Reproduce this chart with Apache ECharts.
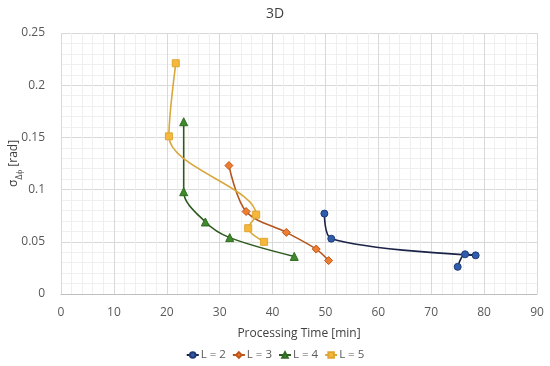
<!DOCTYPE html>
<html>
<head>
<meta charset="utf-8">
<script src="https://cdn.jsdelivr.net/npm/echarts@6/dist/echarts.min.js"></script>
<style>html,body{margin:0;padding:0;background:#fff}#c{width:550px;height:366px}</style>
</head>
<body>
<div id="c"></div>
<script>
const seriesNames = ['L = 2', 'L = 3', 'L = 4', 'L = 5'];
const timeL2 = [49.8, 51.1, 78.4, 76.4, 75.0];
const sigmaL2 = [0.077, 0.053, 0.037, 0.038, 0.026];
const timeL3 = [31.75, 35.0, 42.6, 48.25, 50.6];
const sigmaL3 = [0.123, 0.079, 0.059, 0.043, 0.032];
const timeL4 = [23.2, 23.2, 27.3, 31.9, 44.1];
const sigmaL4 = [0.165, 0.098, 0.069, 0.054, 0.036];
const timeL5 = [21.7, 20.4, 36.9, 35.4, 38.4];
const sigmaL5 = [0.221, 0.151, 0.076, 0.063, 0.050];
const xTicks = [0, 10, 20, 30, 40, 50, 60, 70, 80, 90];
const yTicks = [0, 0.05, 0.1, 0.15, 0.2, 0.25];

const pair = (xs, ys) => xs.map((x, i) => [x, ys[i]]);
const styles = [
  {line: '#1b2447', fill: '#2f5cab', border: '#1f3a78', symbol: 'circle', size: 7},
  {line: '#b5561f', fill: '#ed7d31', border: '#c0561a', symbol: 'diamond', size: 8},
  {line: '#2d5a1e', fill: '#3f8a2c', border: '#2f6b20', symbol: 'triangle', size: 8},
  {line: '#d8a83c', fill: '#f5b83d', border: '#e0a52e', symbol: 'rect', size: 7}
];
const datas = [pair(timeL2, sigmaL2), pair(timeL3, sigmaL3), pair(timeL4, sigmaL4), pair(timeL5, sigmaL5)];

const chart = echarts.init(document.getElementById('c'), null, {renderer: 'canvas'});
chart.setOption({
  animation: false,
  title: {text: '3D', left: 'center', top: 2, textStyle: {fontFamily: 'Open Sans', fontSize: 14, fontWeight: 'normal', color: '#404040'}},
  grid: {left: 61, right: 13, top: 33, bottom: 72, containLabel: false, outerBoundsMode: 'none'},
  legend: {
    bottom: 0, left: 'center', itemWidth: 12, itemHeight: 7, itemGap: 6,
    textStyle: {fontFamily: 'Open Sans', fontSize: 11.5, color: '#595959', padding: [0, 0, 0, -3]},
    data: seriesNames
  },
  xAxis: {
    type: 'value', min: xTicks[0], max: xTicks[xTicks.length - 1], interval: 10,
    name: 'Processing Time [min]', nameLocation: 'middle', nameGap: 34,
    nameTextStyle: {fontFamily: 'Open Sans', fontSize: 12, color: '#404040'},
    axisLine: {show: true, lineStyle: {color: '#bfbfbf'}},
    axisTick: {show: false},
    axisLabel: {fontFamily: 'Open Sans', fontSize: 12, color: '#595959', margin: 13},
    splitLine: {show: true, lineStyle: {color: '#d9d9d9', width: 1}},
    minorTick: {show: false, splitNumber: 5},
    minorSplitLine: {show: true, lineStyle: {color: '#efefef', width: 1}}
  },
  yAxis: {
    type: 'value', min: yTicks[0], max: yTicks[yTicks.length - 1], interval: 0.05,
    name: '{s|σ}{sub|Δϕ}{s| [rad]}', nameLocation: 'middle', nameGap: 37, nameRotate: 90,
    nameMoveOverlap: false,
    nameTextStyle: {
      fontFamily: 'Open Sans', fontSize: 12, color: '#404040',
      rich: {
        s: {fontFamily: 'Open Sans', fontSize: 12, color: '#404040', lineHeight: 16, verticalAlign: 'top'},
        sub: {fontFamily: 'Open Sans', fontSize: 9, color: '#404040', lineHeight: 16, verticalAlign: 'bottom', padding: [5, 0, 0, 0]}
      }
    },
    axisLine: {show: false},
    axisTick: {show: false},
    axisLabel: {fontFamily: 'Open Sans', fontSize: 12, color: '#595959', margin: 16},
    splitLine: {show: true, lineStyle: {color: '#d9d9d9', width: 1}},
    minorTick: {show: false, splitNumber: 5},
    minorSplitLine: {show: true, lineStyle: {color: '#efefef', width: 1}}
  },
  series: datas.map((d, i) => ({
    name: seriesNames[i], type: 'line', data: d, smooth: 0.33,
    symbol: styles[i].symbol, symbolSize: styles[i].size,
    lineStyle: {color: styles[i].line, width: 1.6},
    itemStyle: {color: styles[i].fill, borderColor: styles[i].border, borderWidth: 1}
  }))
});
</script>
</body>
</html>
